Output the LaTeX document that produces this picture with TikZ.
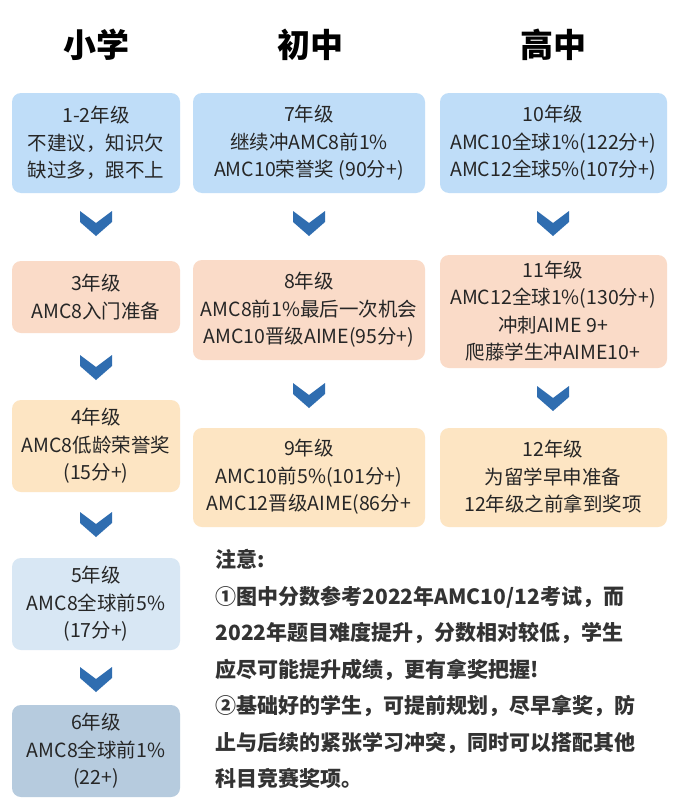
\documentclass[tikz,border=0pt]{standalone}
\usepackage{fontspec}
\setmainfont{Noto Sans CJK SC}
\definecolor{cblue}{HTML}{BFDDF8}
\definecolor{cpeach}{HTML}{FADBC8}
\definecolor{corange}{HTML}{FDE5C3}
\definecolor{clight}{HTML}{D8E7F4}
\definecolor{cgray}{HTML}{B6CBDE}
\definecolor{carrow}{HTML}{2F6DB0}
\begin{document}
\begin{tikzpicture}[x=1pt,y=-1pt,
  box/.style={rounded corners=9pt,align=center,inner sep=0pt,font=\fontsize{19.5}{27.5}\selectfont,text=black!85},
  head/.style={font=\fontsize{33}{36}\selectfont\bfseries,text=black},
  note/.style={anchor=north west,align=left,font=\fontsize{21}{36.5}\selectfont\bfseries,text=black!80}]
\useasboundingbox[fill=white] (0,0) rectangle (678,808);
\newcommand{\chev}[3]{\fill[carrow] (#1-16,#2) -- (#1,#2+12) -- (#1+16,#2) -- (#1+16,#2+11) -- (#1,#2+25) -- (#1-16,#2+11) -- cycle;\coordinate (#3) at (#1,#2);}
\node[head] (h1) at (96,45) {小学};
\node[head] (h2) at (310,45) {初中};
\node[head] (h3) at (553,45) {高中};
% column 1
\fill[cblue,rounded corners=9pt] (12,93) rectangle (180,193);
\node[box] (a1) at (96,143) {1-2年级\\不建议，知识欠\\缺过多，跟不上};
\chev{96}{211}{c1}
\fill[cpeach,rounded corners=9pt] (12,261) rectangle (180,333);
\node[box] (a2) at (96,297) {3年级\\AMC8入门准备};
\chev{96}{355}{c2}
\fill[corange,rounded corners=9pt] (12,400) rectangle (180,492);
\node[box] (a3) at (96,446) {4年级\\AMC8低龄荣誉奖\\(15分+)};
\chev{96}{512}{c3}
\fill[clight,rounded corners=9pt] (12,558) rectangle (180,650);
\node[box] (a4) at (96,604) {5年级\\AMC8全球前5\%\\(17分+)};
\chev{96}{667}{c4}
\fill[cgray,rounded corners=9pt] (12,705) rectangle (180,797);
\node[box] (a5) at (96,751) {6年级\\AMC8全球前1\%\\(22+)};
% column 2
\fill[cblue,rounded corners=9pt] (193,93) rectangle (425,193);
\node[box] (b1) at (309,143) {7年级\\继续冲AMC8前1\%\\AMC10荣誉奖 (90分+)};
\chev{309}{211}{d1}
\fill[cpeach,rounded corners=9pt] (193,260) rectangle (425,360);
\node[box] (b2) at (309,310) {8年级\\AMC8前1\%最后一次机会\\AMC10晋级AIME(95分+)};
\chev{309}{383}{d2}
\fill[corange,rounded corners=9pt] (193,428) rectangle (425,527);
\node[box] (b3) at (309,477) {9年级\\AMC10前5\%(101分+)\\AMC12晋级AIME(86分+};
% column 3
\fill[cblue,rounded corners=9pt] (440,93) rectangle (667,193);
\node[box] (e1) at (553,143) {10年级\\AMC10全球1\%(122分+)\\AMC12全球5\%(107分+)};
\chev{553}{211}{f1}
\fill[cpeach,rounded corners=9pt] (440,255) rectangle (667,368);
\node[box] (e2) at (553,311) {11年级\\AMC12全球1\%(130分+)\\冲刺AIME 9+\\爬藤学生冲AIME10+};
\chev{553}{386}{f2}
\fill[corange,rounded corners=9pt] (440,428) rectangle (667,527);
\node[box] (e3) at (553,477) {12年级\\为留学早申准备\\12年级之前拿到奖项};
% notes
\node[note] (n) at (212,546) {注意:\\①图中分数参考2022年AMC10/12考试，而\\2022年题目难度提升，分数相对较低，学生\\应尽可能提升成绩，更有拿奖把握!\\②基础好的学生，可提前规划，尽早拿奖，防\\止与后续的紧张学习冲突，同时可以搭配其他\\科目竞赛奖项。};
\end{tikzpicture}
\end{document}
